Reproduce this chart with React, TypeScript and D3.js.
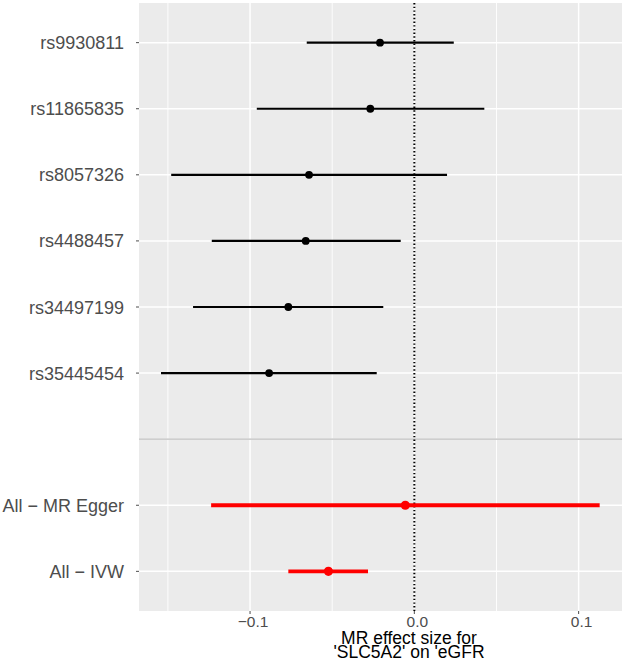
import React from "react";
import * as d3 from "d3";

// Rows of the forest plot, top to bottom; the empty entry is the gap before the summary estimates
const rowLabels = [
  "rs9930811",
  "rs11865835",
  "rs8057326",
  "rs4488457",
  "rs34497199",
  "rs35445454",
  "",
  "All − MR Egger",
  "All − IVW",
];

// Per-SNP Wald ratio estimates with 95% CI
const snpNames = ["rs9930811", "rs11865835", "rs8057326", "rs4488457", "rs34497199", "rs35445454"];
const snpEstimate = [-0.0209, -0.0268, -0.0641, -0.0661, -0.0767, -0.0884];
const snpLower = [-0.0655, -0.0959, -0.148, -0.1233, -0.1347, -0.1542];
const snpUpper = [0.024, 0.0426, 0.0199, -0.0083, -0.0189, -0.0229];

// Combined estimates
const summaryNames = ["All − MR Egger", "All − IVW"];
const summaryEstimate = [-0.0055, -0.0523];
const summaryLower = [-0.1237, -0.0767];
const summaryUpper = [0.1128, -0.0282];

const majorTicks = [-0.1, 0, 0.1];
const minorTicks = [-0.15, -0.05, 0.05];
const xDomain = [-0.1676, 0.1264];
const titleLines = ["MR effect size for", "'SLC5A2' on 'eGFR"];

const W = 624;
const H = 661;
const panel = { left: 139, right: 622, top: 3, bottom: 611 };
const font = "'Liberation Sans', Arial, Helvetica, sans-serif";

export default function App() {
  const x = d3.scaleLinear().domain(xDomain).range([panel.left, panel.right]);
  const y = d3
    .scalePoint<number>()
    .domain(d3.range(rowLabels.length))
    .range([panel.top, panel.bottom])
    .padding(0.6);

  const rowY = (name: string) => y(rowLabels.indexOf(name)) as number;
  const gapY = rowY("");

  const fmt = (v: number) => d3.format(".1f")(v).replace("-", "−");

  const snps = snpNames.map((n, i) => ({
    y: rowY(n),
    b: snpEstimate[i],
    lo: snpLower[i],
    hi: snpUpper[i],
  }));
  const summaries = summaryNames.map((n, i) => ({
    y: rowY(n),
    b: summaryEstimate[i],
    lo: summaryLower[i],
    hi: summaryUpper[i],
  }));

  return (
    <svg
      width={W}
      height={H}
      style={{ position: "absolute", left: 0, top: 0, background: "#fff" }}
    >
      {/* panel */}
      <rect
        x={panel.left}
        y={panel.top}
        width={panel.right - panel.left}
        height={panel.bottom - panel.top}
        fill="#ebebeb"
      />
      {minorTicks.map((t) => (
        <line
          key={"mn" + t}
          x1={x(t)}
          x2={x(t)}
          y1={panel.top}
          y2={panel.bottom}
          stroke="#fff"
          strokeWidth={0.9}
        />
      ))}
      {majorTicks.map((t) => (
        <line
          key={"mj" + t}
          x1={x(t)}
          x2={x(t)}
          y1={panel.top}
          y2={panel.bottom}
          stroke="#fff"
          strokeWidth={1.5}
        />
      ))}
      {rowLabels.map((_, i) => (
        <line
          key={"hr" + i}
          x1={panel.left}
          x2={panel.right}
          y1={y(i)}
          y2={y(i)}
          stroke="#fff"
          strokeWidth={1.5}
        />
      ))}

      {/* separator between individual SNPs and combined estimates */}
      <line
        x1={panel.left}
        x2={panel.right}
        y1={gapY}
        y2={gapY}
        stroke="#bebebe"
        strokeWidth={1.3}
      />

      {/* null line */}
      <line
        x1={x(0)}
        x2={x(0)}
        y1={panel.top}
        y2={panel.bottom}
        stroke="#000"
        strokeWidth={2}
        strokeDasharray="1.4 2.3"
      />

      {/* SNP estimates */}
      {snps.map((d, i) => (
        <g key={"s" + i}>
          <line x1={x(d.lo)} x2={x(d.hi)} y1={d.y} y2={d.y} stroke="#000" strokeWidth={2.2} />
          <circle cx={x(d.b)} cy={d.y} r={3.9} fill="#000" />
        </g>
      ))}

      {/* combined estimates */}
      {summaries.map((d, i) => (
        <g key={"m" + i}>
          <line x1={x(d.lo)} x2={x(d.hi)} y1={d.y} y2={d.y} stroke="#ff0000" strokeWidth={3.9} />
          <circle cx={x(d.b)} cy={d.y} r={4.6} fill="#ff0000" />
        </g>
      ))}

      {/* y axis */}
      {rowLabels.map((lab, i) => (
        <g key={"yl" + i}>
          {lab !== "" && (
            <>
              <line
                x1={panel.left - 3}
                x2={panel.left}
                y1={y(i)}
                y2={y(i)}
                stroke="#4d4d4d"
                strokeWidth={1}
              />
              <text
                x={124}
                y={(y(i) as number) + 6.5}
                textAnchor="end"
                fontFamily={font}
                fontSize={18}
                fill="#4d4d4d"
              >
                {lab}
              </text>
            </>
          )}
        </g>
      ))}

      {/* x axis */}
      {majorTicks.map((t) => (
        <g key={"xt" + t}>
          <line
            x1={x(t)}
            x2={x(t)}
            y1={panel.bottom}
            y2={panel.bottom + 3}
            stroke="#4d4d4d"
            strokeWidth={1}
          />
          <text
            x={x(t) + 3}
            y={627}
            textAnchor="middle"
            fontFamily={font}
            fontSize={15.5}
            fill="#4d4d4d"
          >
            {fmt(t)}
          </text>
        </g>
      ))}
      <text textAnchor="middle" fontFamily={font} fontSize={17.5} fill="#000">
        {titleLines.map((l, i) => (
          <tspan key={i} x={409} y={643.5 + i * 14.7}>
            {l}
          </tspan>
        ))}
      </text>
    </svg>
  );
}
